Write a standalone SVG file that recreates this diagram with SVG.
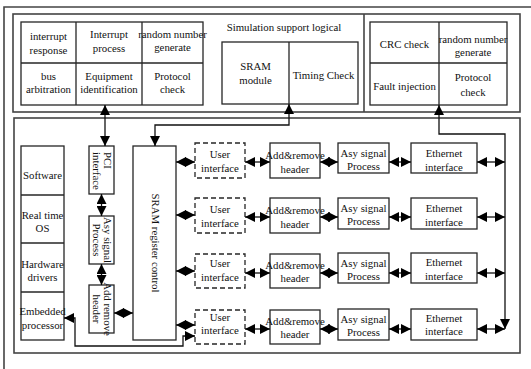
<svg xmlns="http://www.w3.org/2000/svg" width="531" height="369" viewBox="0 0 531 369">
  <style>
    .box { fill: #fff; stroke: #262626; stroke-width: 1.3; }
    .dash { fill: #fff; stroke: #262626; stroke-width: 1.3; stroke-dasharray: 5 3; }
    .ln { fill: none; stroke: #262626; stroke-width: 1.3; }
    .frame { fill: none; stroke: #444; stroke-width: 1.6; }
    text { font-family: "Liberation Serif", "Times New Roman", serif; font-size: 10.8px; fill: #111; text-anchor: middle; }
    .st { text-anchor: start; }
    .cn { fill: none; stroke: #111; stroke-width: 1.3; marker-start: url(#ah); marker-end: url(#ah); }
  </style>
  <defs>
    <marker id="ah" viewBox="0 0 10 10" refX="10" refY="5" markerWidth="10" markerHeight="10" markerUnits="userSpaceOnUse" orient="auto-start-reverse">
      <path d="M0,0 L10,5 L0,10 Z" fill="#000"/>
    </marker>
  </defs>

  <!-- page frame -->
  <path class="frame" d="M4,369 V7 H540"/>

  <!-- upper group: management functions -->
  <g id="upper-group">
    <rect class="frame" x="13" y="14" width="507" height="98"/>
    <line class="frame" x1="364" y1="14" x2="364" y2="112"/>
  </g>

  <g id="host-functions">
    <rect class="box" x="21" y="22" width="182" height="83"/>
    <line class="ln" x1="76" y1="22" x2="76" y2="105"/>
    <line class="ln" x1="142" y1="22" x2="142" y2="105"/>
    <line class="ln" x1="21" y1="63" x2="203" y2="63"/>
    <text x="48.5" y="40">interrupt</text>
    <text x="48.5" y="54">response</text>
    <text x="109" y="38">Interrupt</text>
    <text x="109" y="52">process</text>
    <text x="172.5" y="38">random number</text>
    <text x="172.5" y="51">generate</text>
    <text x="48.5" y="80">bus</text>
    <text x="48.5" y="93">arbitration</text>
    <text x="109" y="80">Equipment</text>
    <text x="109" y="93">identification</text>
    <text x="172.5" y="80">Protocol</text>
    <text x="172.5" y="93">check</text>
  </g>

  <g id="simulation-support">
    <text x="284" y="31">Simulation support logical</text>
    <rect class="box" x="222" y="42" width="136" height="62"/>
    <line class="ln" x1="289" y1="42" x2="289" y2="104"/>
    <text x="255.5" y="70">SRAM</text>
    <text x="255.5" y="84">module</text>
    <text x="323.5" y="79">Timing Check</text>
  </g>

  <g id="test-functions">
    <rect class="box" x="370" y="22" width="137" height="83"/>
    <line class="ln" x1="439" y1="22" x2="439" y2="105"/>
    <line class="ln" x1="370" y1="63" x2="507" y2="63"/>
    <text x="404.5" y="48">CRC check</text>
    <text x="473" y="43">random number</text>
    <text x="473" y="56">generate</text>
    <text x="404.5" y="90">Fault injection</text>
    <text x="473" y="81">Protocol</text>
    <text x="473" y="96">check</text>
  </g>

  <!-- lower group: data path -->
  <g id="lower-group">
    <rect class="frame" x="14" y="118" width="506" height="235"/>
  </g>

  <g id="software-stack">
    <rect class="box" x="21" y="146" width="43" height="194"/>
    <line class="ln" x1="21" y1="195" x2="64" y2="195"/>
    <line class="ln" x1="21" y1="243" x2="64" y2="243"/>
    <line class="ln" x1="21" y1="292" x2="64" y2="292"/>
    <text x="42.5" y="179">Software</text>
    <text x="42.5" y="219">Real time</text>
    <text x="42.5" y="232">OS</text>
    <text x="42.5" y="268">Hardware</text>
    <text x="42.5" y="281">drivers</text>
    <text x="42.5" y="315">Embedded</text>
    <text x="42.5" y="329">processor</text>
  </g>

  <g id="pci-interface">
    <rect class="box" x="89" y="146" width="25" height="48"/>
    <text class="st" transform="translate(103.5,152) rotate(90)">PCI</text>
    <text class="st" transform="translate(92.5,152) rotate(90)">interface</text>
  </g>

  <g id="asy-signal-left">
    <rect class="box" x="89" y="216" width="25" height="48"/>
    <text transform="translate(103.5,240) rotate(90)">Asy signal</text>
    <text transform="translate(92.5,240) rotate(90)">Process</text>
  </g>

  <g id="add-remove-left">
    <rect class="box" x="89" y="285" width="25" height="48"/>
    <text transform="translate(103.5,309) rotate(90)">Add remove</text>
    <text transform="translate(92.5,309) rotate(90)">header</text>
  </g>

  <g id="sram-register-control">
    <rect class="box" x="133" y="146" width="43" height="194"/>
    <text transform="translate(151.5,243) rotate(90)">SRAM register control</text>
  </g>

  <!-- four parallel channels -->
  <g id="user-interface">
    <rect class="dash" x="195" y="143" width="50" height="35"/>
    <rect class="dash" x="195" y="198" width="50" height="35"/>
    <rect class="dash" x="195" y="254" width="50" height="34"/>
    <rect class="dash" x="195" y="310" width="50" height="34"/>
    <text x="220" y="158">User</text><text x="220" y="172">interface</text>
    <text x="220" y="213">User</text><text x="220" y="227">interface</text>
    <text x="220" y="267">User</text><text x="220" y="281">interface</text>
    <text x="220" y="321">User</text><text x="220" y="334">interface</text>
  </g>

  <g id="add-remove-header">
    <rect class="box" x="270" y="143" width="50" height="35"/>
    <rect class="box" x="270" y="198" width="50" height="35"/>
    <rect class="box" x="270" y="254" width="50" height="34"/>
    <rect class="box" x="270" y="310" width="50" height="34"/>
    <text x="295" y="158.5">Add&amp;remove</text><text x="295" y="172.5">header</text>
    <text x="295" y="213.5">Add&amp;remove</text><text x="295" y="227.5">header</text>
    <text x="295" y="268.5">Add&amp;remove</text><text x="295" y="282">header</text>
    <text x="295" y="324.5">Add&amp;remove</text><text x="295" y="338">header</text>
  </g>

  <g id="asy-signal-process">
    <rect class="box" x="338" y="143" width="51" height="30"/>
    <rect class="box" x="338" y="198" width="51" height="31"/>
    <rect class="box" x="338" y="253" width="51" height="30"/>
    <rect class="box" x="338" y="309" width="51" height="31"/>
    <text x="363.5" y="157">Asy signal</text><text x="363.5" y="170">Process</text>
    <text x="363.5" y="212">Asy signal</text><text x="363.5" y="225">Process</text>
    <text x="363.5" y="267">Asy signal</text><text x="363.5" y="280">Process</text>
    <text x="363.5" y="323">Asy signal</text><text x="363.5" y="336">Process</text>
  </g>

  <g id="ethernet-interface">
    <rect class="box" x="411" y="143" width="66" height="30"/>
    <rect class="box" x="411" y="198" width="66" height="31"/>
    <rect class="box" x="411" y="253" width="66" height="30"/>
    <rect class="box" x="411" y="309" width="66" height="31"/>
    <text x="444" y="156.5">Ethernet</text><text x="444" y="170.5">interface</text>
    <text x="444" y="211.5">Ethernet</text><text x="444" y="225.5">interface</text>
    <text x="444" y="266">Ethernet</text><text x="444" y="280">interface</text>
    <text x="444" y="322">Ethernet</text><text x="444" y="335">interface</text>
  </g>

  <!-- connectors -->
  <g id="connectors">
    <path class="cn" d="M105,105 V146"/>
    <path class="cn" d="M289,104 V125 H155 V146"/>
    <path class="cn" d="M439,105 V134 H505 V329"/>
    <path class="cn" d="M101.5,194 V216"/>
    <path class="cn" d="M101.5,264 V285"/>
    <path class="cn" d="M114,313 H133"/>
    <path class="cn" d="M64,318 H75 V346 H183 V336 H195"/>

    <path class="cn" d="M176,162 H195"/>
    <path class="cn" d="M176,215 H195"/>
    <path class="cn" d="M176,271 H195"/>
    <path class="cn" d="M176,325 H195"/>

    <path class="cn" d="M245,162 H270"/>
    <path class="cn" d="M245,217 H270"/>
    <path class="cn" d="M245,273 H270"/>
    <path class="cn" d="M245,329 H270"/>

    <path class="cn" d="M320,162 H338"/>
    <path class="cn" d="M320,217 H338"/>
    <path class="cn" d="M320,273 H338"/>
    <path class="cn" d="M320,329 H338"/>

    <path class="cn" d="M389,162 H411"/>
    <path class="cn" d="M389,217 H411"/>
    <path class="cn" d="M389,273 H411"/>
    <path class="cn" d="M389,329 H411"/>

    <path class="cn" d="M477,162 H505"/>
    <path class="cn" d="M477,217 H505"/>
    <path class="cn" d="M477,273 H505"/>
    <path class="cn" d="M477,329 H505"/>
  </g>
</svg>
